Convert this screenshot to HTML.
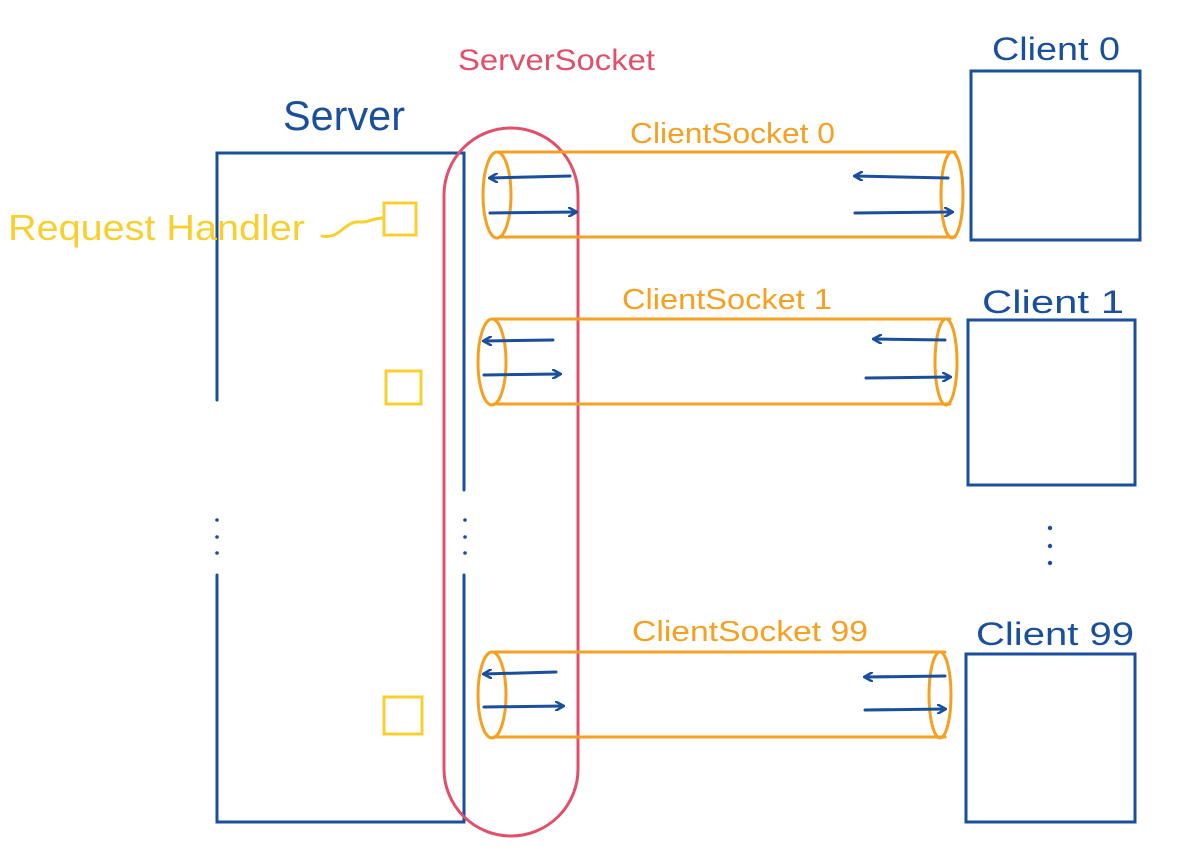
<!DOCTYPE html>
<html><head><meta charset="utf-8"><style>
html,body{margin:0;padding:0;background:#fff;}
svg{display:block}
text{font-family:"Liberation Sans",sans-serif;}
</style></head><body>
<svg width="1181" height="866" viewBox="0 0 1181 866" xmlns="http://www.w3.org/2000/svg">
<defs>
<marker id="ah" markerWidth="10" markerHeight="10" refX="8" refY="5" orient="auto" markerUnits="userSpaceOnUse">
<path d="M0,0 L9,5 L0,10" fill="none" stroke="#1a4f9c" stroke-width="2.5"/>
</marker>
</defs>
<g fill="none" stroke-linecap="round">
<g stroke="#1a4f9c" stroke-width="3">
<path d="M217,400 L217,153 L464,153 L464,490"/>
<path d="M217,575 L217,822 L464,822 L464,575"/>
</g>
<g fill="#1a4f9c">
<circle cx="217" cy="520" r="1.8"/><circle cx="217" cy="537" r="1.8"/><circle cx="217" cy="553" r="1.8"/>
<circle cx="465" cy="520" r="1.8"/><circle cx="465" cy="537" r="1.8"/><circle cx="465" cy="553" r="1.8"/>
<circle cx="1050" cy="528" r="2.2"/><circle cx="1050" cy="546" r="2.2"/><circle cx="1050" cy="563" r="2.2"/>
</g>
<rect x="444" y="128" width="134" height="708" rx="67" stroke="#e0506a" stroke-width="3"/>
<g stroke="#f7d030" stroke-width="3">
<rect x="384" y="203" width="32" height="32"/>
<rect x="386" y="371" width="35" height="33"/>
<rect x="384" y="697" width="38" height="37"/>
<path d="M322,236 C340,240 345,220 360,222 C368,223 372,218 384,218"/>
</g>
<g stroke="#f5a020" stroke-width="3">
<path d="M500,152 L955,152 M500,237 L955,237"/>
<ellipse cx="497" cy="195" rx="14" ry="43"/>
<ellipse cx="952" cy="195" rx="11" ry="43"/>
<path d="M494,319 L950,319 M494,404 L950,404"/>
<ellipse cx="492" cy="362" rx="14" ry="43"/>
<ellipse cx="946" cy="362" rx="11" ry="43"/>
<path d="M494,652 L945,652 M494,737 L945,737"/>
<ellipse cx="492" cy="695" rx="14" ry="43"/>
<ellipse cx="940" cy="695" rx="11" ry="43"/>
</g>
<g stroke="#1a4f9c" stroke-width="3" marker-end="url(#ah)">
<path d="M570,176 L490,178"/><path d="M490,213 L576,212"/>
<path d="M948,178 L855,176"/><path d="M855,213 L952,212"/>
<path d="M553,340 L484,341"/><path d="M484,375 L560,374"/>
<path d="M945,340 L874,339"/><path d="M866,378 L950,377"/>
<path d="M556,672 L484,674"/><path d="M484,707 L563,706"/>
<path d="M945,676 L865,677"/><path d="M865,710 L945,709"/>
</g>
<g stroke="#1a4f9c" stroke-width="3">
<rect x="971" y="71" width="169" height="169"/>
<rect x="968" y="320" width="167" height="165"/>
<rect x="966" y="654" width="169" height="168"/>
</g>
</g>
<text x="283" y="130" font-size="42" fill="#1a4f9c" textLength="122" lengthAdjust="spacingAndGlyphs">Server</text>
<text x="458" y="70" font-size="30" fill="#e0506a" textLength="197" lengthAdjust="spacingAndGlyphs">ServerSocket</text>
<text x="8" y="240" font-size="36" fill="#f7d030" textLength="297" lengthAdjust="spacingAndGlyphs">Request Handler</text>
<text x="630" y="143" font-size="29" fill="#f5a020" textLength="205" lengthAdjust="spacingAndGlyphs">ClientSocket 0</text>
<text x="622" y="309" font-size="29" fill="#f5a020" textLength="210" lengthAdjust="spacingAndGlyphs">ClientSocket 1</text>
<text x="632" y="641" font-size="29" fill="#f5a020" textLength="236" lengthAdjust="spacingAndGlyphs">ClientSocket 99</text>
<text x="992" y="60" font-size="32" fill="#1a4f9c" textLength="128" lengthAdjust="spacingAndGlyphs">Client 0</text>
<text x="982" y="313" font-size="32" fill="#1a4f9c" textLength="142" lengthAdjust="spacingAndGlyphs">Client 1</text>
<text x="976" y="645" font-size="32" fill="#1a4f9c" textLength="158" lengthAdjust="spacingAndGlyphs">Client 99</text>
</svg>
</body></html>
